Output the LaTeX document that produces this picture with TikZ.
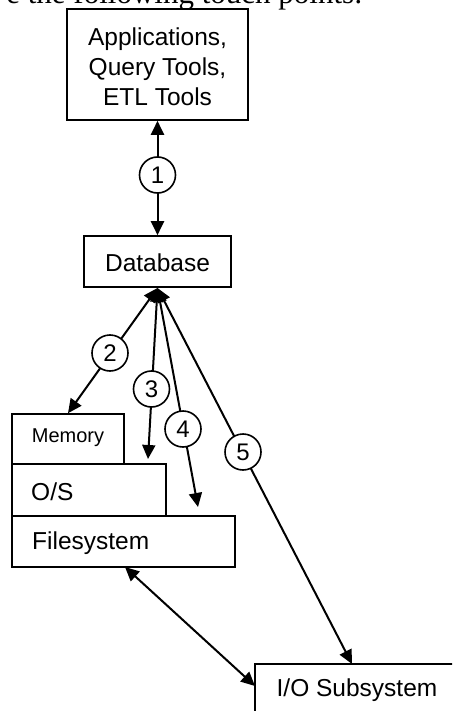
\documentclass[tikz,border=0pt]{standalone}
\usepackage{fontspec}
\setmainfont{Liberation Sans}
\newfontfamily\serifface{Liberation Serif}
\usetikzlibrary{arrows.meta}
\begin{document}
\begin{tikzpicture}[x=1pt,y=-1pt,
  box/.style={draw,line width=1.6pt,inner sep=0pt,rectangle},
  lbl/.style={font=\fontsize{24.5}{30}\selectfont,inner sep=0pt},
  num/.style={draw,circle,fill=white,line width=1.6pt,minimum size=36pt,inner sep=0pt,font=\fontsize{24}{28}\selectfont},
  con/.style={line width=2pt,{Triangle[length=14pt,width=13pt]}-{Triangle[length=14pt,width=13pt]}}
]
\useasboundingbox (0,0) rectangle (452,711);
\clip (0,0) rectangle (452,711);
\fill[white] (0,0) rectangle (452,711);
% partially visible sentence at the top
\node[anchor=base east,inner sep=0pt,font=\serifface\fontsize{31}{36}\selectfont] (intro) at (363,4) {e the following touch points:};
% boxes
\node[box,minimum width=181pt,minimum height=111pt] (apps) at (157.5,64.5) {};
\node[lbl,align=center] (appst) at (157.5,67) {Applications,\\Query Tools,\\ETL Tools};
\node[box,minimum width=147pt,minimum height=51pt] (db) at (157.5,261.5) {};
\node[lbl] (dbt) at (157.5,263) {Database};
\node[box,minimum width=112pt,minimum height=50pt] (mem) at (68,439) {};
\node[inner sep=0pt,font=\fontsize{20}{24}\selectfont] (memt) at (68,438) {Memory};
\node[box,minimum width=154pt,minimum height=52pt] (os) at (89,490) {};
\node[lbl,anchor=west] (ost) at (31,492) {O/S};
\node[box,minimum width=223pt,minimum height=51pt] (fs) at (123.5,541.5) {};
\node[lbl,anchor=west] (fst) at (32,543) {Filesystem};
\node[box,minimum width=204pt,minimum height=52pt] (io) at (357,690) {};
\node[lbl] (iot) at (357,690) {I/O Subsystem};
% connector end points
\coordinate (dbs) at (157.5,288);
\coordinate (c3) at (148,459);
\coordinate (c4) at (198,507);
\coordinate (c5) at (352,664);
\coordinate (fsb) at (125,567);
\coordinate (iol) at (255,686);
% connectors
\draw[con] (apps.south) -- (db.north);
\draw[con] (dbs) -- (mem.north);
\draw[con] (dbs) -- (c3);
\draw[con] (dbs) -- (c4);
\draw[con] (dbs) -- (c5);
\draw[con] (fsb) -- (iol);
% numbered circles
\node[num] (n1) at (157.5,175) {1};
\node[num] (n2) at (110,353) {2};
\node[num] (n3) at (151.5,389) {3};
\node[num] (n4) at (183,429) {4};
\node[num] (n5) at (243,452) {5};
\end{tikzpicture}
\end{document}
